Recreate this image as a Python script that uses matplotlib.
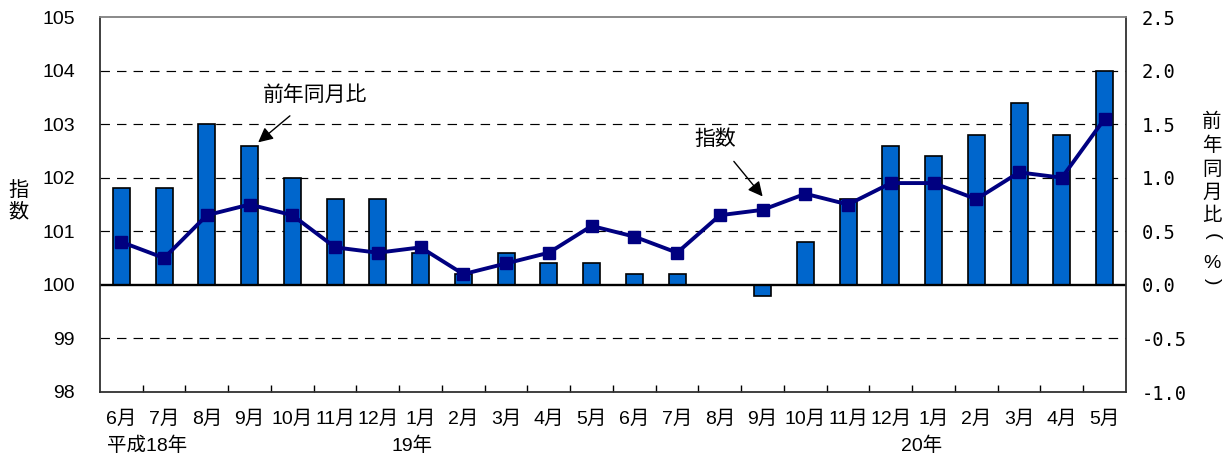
import numpy as np
import matplotlib
matplotlib.use('Agg')
import matplotlib.pyplot as plt

plt.rcParams['font.family'] = ['Liberation Sans', 'Noto Sans CJK JP']

# data
months = ['6月', '7月', '8月', '9月', '10月', '11月', '12月',
          '1月', '2月', '3月', '4月', '5月', '6月', '7月', '8月', '9月', '10月', '11月', '12月',
          '1月', '2月', '3月', '4月', '5月']
years = ['平成18年', '19年', '20年']
# 前年同月比 (%) -> bars, right axis
yoy = [0.9, 0.9, 1.5, 1.3, 1.0, 0.8, 0.8,
       0.3, 0.1, 0.3, 0.2, 0.2, 0.1, 0.1, 0.0, -0.1, 0.4, 0.8, 1.3,
       1.2, 1.4, 1.7, 1.4, 2.0]
# 指数 -> line, left axis
idx = [100.8, 100.5, 101.3, 101.5, 101.3, 100.7, 100.6,
       100.7, 100.2, 100.4, 100.6, 101.1, 100.9, 100.6, 101.3, 101.4, 101.7, 101.5, 101.9,
       101.9, 101.6, 102.1, 102.0, 103.1]
left_ticks = [98, 99, 100, 101, 102, 103, 104, 105]
right_ticks = [-1.0, -0.5, 0.0, 0.5, 1.0, 1.5, 2.0, 2.5]

x = np.arange(len(months))

fig = plt.figure(figsize=(12.32, 4.55), dpi=100)
ax = fig.add_axes([100 / 1232, 1 - 392 / 455, 1026 / 1232, 375 / 455])
ax2 = ax.twinx()
ax.set_zorder(2)
ax.patch.set_visible(False)

# bars + grid on the right axis
for g in [-0.5, 0.5, 1.0, 1.5, 2.0]:
    ax2.axhline(g, color='black', lw=0.85, dashes=(8, 6), zorder=0)
ax2.bar(x, yoy, width=0.4, color='#0066CC', edgecolor='black', linewidth=1.2, zorder=2)
ax2.axhline(0, color='black', lw=1.7, zorder=3)
ax2.set_ylim(-1.0, 2.5)
ax2.set_yticks(right_ticks)
ax2.set_yticklabels(['%.1f' % v for v in right_ticks], family='DejaVu Sans Mono', fontsize=13.5)
ax2.tick_params(axis='y', length=0, pad=11)
for s in ax2.spines.values():
    s.set_visible(False)

# index line on the left axis
ax.plot(x, idx, color='#000080', lw=2.8, marker='s', markersize=8, zorder=5)
ax.set_ylim(98, 105)
ax.set_yticks(left_ticks)
ax.tick_params(axis='y', length=0, pad=18, labelsize=14)
ax.set_xlim(-0.5, len(months) - 0.5)
ax.set_xticks(x)
ax.set_xticklabels(months, fontsize=14)
ax.set_xticks(np.arange(0.5, len(months) - 1, 1), minor=True)
ax.tick_params(axis='x', which='major', length=0, pad=13)
ax.tick_params(axis='x', which='minor', direction='in', length=5, width=1)
for k in ['left', 'bottom', 'right']:
    ax.spines[k].set_linewidth(1.3)
    ax.spines[k].set_color('#303030')
ax.spines['top'].set_color('#808080')
ax.spines['top'].set_linewidth(1.3)

# year labels under month labels
tr = ax.get_xaxis_transform()
ax.text(-0.34, -0.143, years[0], transform=tr, ha='left', va='center', fontsize=14)
ax.text(6.81, -0.143, years[1], transform=tr, ha='center', va='center', fontsize=14)
ax.text(18.73, -0.143, years[2], transform=tr, ha='center', va='center', fontsize=14)

# axis titles, stacked vertically
fig.text(18 / 1232, 1 - 201 / 455, '指\n数', ha='center', va='center', fontsize=14.5, linespacing=1.2)
rlabel = ['前', '年', '同', '月', '比', '(', '%', ')']
rpos = [122, 146, 170, 193, 216, 236, 263, 281]
for ch, yp in zip(rlabel, rpos):
    rot = -90 if ch in '()' else 0
    fig.text(1212 / 1232, 1 - yp / 455, ch, ha='center', va='center', fontsize=14, rotation=rot)

# callouts
ax2.annotate('前年同月比', xy=(3.2, 1.33), xytext=(4.52, 1.77), ha='center', va='center', fontsize=15,
             arrowprops=dict(arrowstyle='-|>', color='black', lw=1, mutation_scale=22, shrinkA=9, shrinkB=0))
ax.annotate('指数', xy=(15.0, 101.65), xytext=(13.9, 102.72), ha='center', va='center', fontsize=15,
            arrowprops=dict(arrowstyle='-|>', color='black', lw=1, mutation_scale=22, shrinkA=9, shrinkB=0),
            zorder=6)

fig.savefig('out.png', dpi=100)
